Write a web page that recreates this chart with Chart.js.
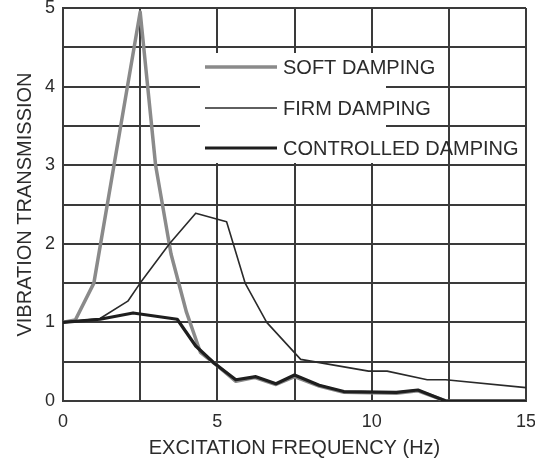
<!DOCTYPE html>
<html>
<head>
<meta charset="utf-8">
<script src="https://cdn.jsdelivr.net/npm/chart.js@4.4.1/dist/chart.umd.min.js"></script>
<style>
  html, body { margin: 0; padding: 0; background: #ffffff; }
  #wrap { width: 535px; height: 462px; position: relative; }
</style>
</head>
<body>
<div id="wrap"><canvas id="c" width="535" height="462"></canvas></div>
<script>
// ---- data ----
const seriesNames = ['SOFT DAMPING', 'FIRM DAMPING', 'CONTROLLED DAMPING'];

const softFreq = [0, 0.4, 1.0, 2.5, 3.0, 3.5, 4.0, 4.45, 5.0, 5.6, 6.2, 6.9, 7.5, 8.3, 9.1, 10.8, 11.5, 12.4, 15];
const softVals = [1.0, 1.03, 1.5, 4.95, 3.0, 1.87, 1.13, 0.62, 0.45, 0.25, 0.30, 0.21, 0.31, 0.19, 0.11, 0.10, 0.13, 0.0, 0.0];

const firmFreq = [0, 1.2, 2.1, 2.5, 3.45, 4.3, 5.3, 5.9, 6.6, 7.7, 9.9, 10.5, 11.8, 12.4, 15];
const firmVals = [1.0, 1.05, 1.27, 1.5, 2.0, 2.39, 2.28, 1.5, 1.0, 0.53, 0.38, 0.38, 0.27, 0.27, 0.17];

const ctrlFreq = [0, 1.2, 2.27, 3.7, 4.3, 4.9, 5.6, 6.25, 6.9, 7.5, 8.3, 9.1, 10.8, 11.5, 12.4, 15];
const ctrlVals = [1.0, 1.04, 1.12, 1.04, 0.70, 0.48, 0.27, 0.31, 0.22, 0.33, 0.20, 0.12, 0.11, 0.14, 0.0, 0.0];

const xTickLabels = [0, 5, 10, 15];
const yTickLabels = [0, 1, 2, 3, 4, 5];

const xTitle = 'EXCITATION FREQUENCY (Hz)';
const yTitle = 'VIBRATION TRANSMISSION';

// ---- helpers ----
const toPoints = (xs, ys) => xs.map((x, i) => ({ x: x, y: ys[i] }));
const FONT = "'Liberation Sans', Arial, sans-serif";
const INK = '#2b2b2b';
const GRID = '#3a3a3a';

const styles = [
  { color: '#8a8a8a', width: 3.5, order: 3 },
  { color: '#2a2a2a', width: 1.6, order: 2 },
  { color: '#1e1e1e', width: 3.2, order: 1 }
];
const seriesData = [toPoints(softFreq, softVals), toPoints(firmFreq, firmVals), toPoints(ctrlFreq, ctrlVals)];

const legendPlugin = {
  id: 'insetLegend',
  beforeDatasetsDraw(chart) {
    const ctx = chart.ctx;
    const a = chart.chartArea;
    // white box behind legend (covers grid)
    ctx.save();
    ctx.fillStyle = '#ffffff';
    ctx.fillRect(a.left + 137, a.top + 45, 186, 110);
    ctx.restore();
  },
  afterDatasetsDraw(chart) {
    const ctx = chart.ctx;
    const a = chart.chartArea;
    const rows = [a.top + 59, a.top + 100, a.top + 140];
    ctx.save();
    chart.data.datasets.forEach((ds, i) => {
      const y = rows[i];
      ctx.beginPath();
      ctx.strokeStyle = ds.borderColor;
      ctx.lineWidth = ds.borderWidth;
      ctx.moveTo(a.left + 142, y);
      ctx.lineTo(a.left + 214, y);
      ctx.stroke();
      ctx.fillStyle = INK;
      ctx.font = '20px ' + FONT;
      ctx.textBaseline = 'middle';
      ctx.textAlign = 'left';
      ctx.fillText(ds.label, a.left + 220, y + 1);
    });
    ctx.restore();
  }
};

new Chart(document.getElementById('c'), {
  type: 'line',
  data: {
    datasets: seriesNames.map((name, i) => ({
      label: name,
      data: seriesData[i],
      borderColor: styles[i].color,
      borderWidth: styles[i].width,
      order: styles[i].order,
      pointRadius: 0,
      tension: 0,
      fill: false,
      borderJoinStyle: 'round',
      borderCapStyle: 'round'
    }))
  },
  options: {
    responsive: false,
    animation: false,
    devicePixelRatio: 1,
    layout: { padding: { left: 0, right: 9, top: 8, bottom: 0 } },
    plugins: { legend: { display: false }, tooltip: { enabled: false } },
    scales: {
      x: {
        type: 'linear',
        min: 0, max: 15,
        ticks: {
          stepSize: 2.5,
          padding: 10,
          color: INK,
          font: { family: FONT, size: 18 },
          maxRotation: 0,
          autoSkip: false,
          callback: (v) => xTickLabels.includes(v) ? String(v) : ''
        },
        grid: { color: GRID, lineWidth: 2, drawTicks: false },
        border: { display: true, color: GRID, width: 2 },
        title: { display: true, text: xTitle, color: INK, font: { family: FONT, size: 20 }, padding: { top: 0, bottom: 2 } },
        afterFit: (s) => { s.height = 61; s.paddingLeft = 0; s.paddingRight = 0; }
      },
      y: {
        type: 'linear',
        min: 0, max: 5,
        ticks: {
          stepSize: 0.5,
          padding: 8,
          color: INK,
          font: { family: FONT, size: 18 },
          autoSkip: false,
          callback: (v) => yTickLabels.includes(v) ? String(v) : ''
        },
        grid: { color: GRID, lineWidth: 2, drawTicks: false },
        border: { display: true, color: GRID, width: 2 },
        title: { display: true, text: yTitle, color: INK, font: { family: FONT, size: 20 }, padding: { top: 13, bottom: 0 } },
        afterFit: (s) => { s.width = 63; s.paddingTop = 0; s.paddingBottom = 0; }
      }
    }
  },
  plugins: [legendPlugin]
});
</script>
</body>
</html>
